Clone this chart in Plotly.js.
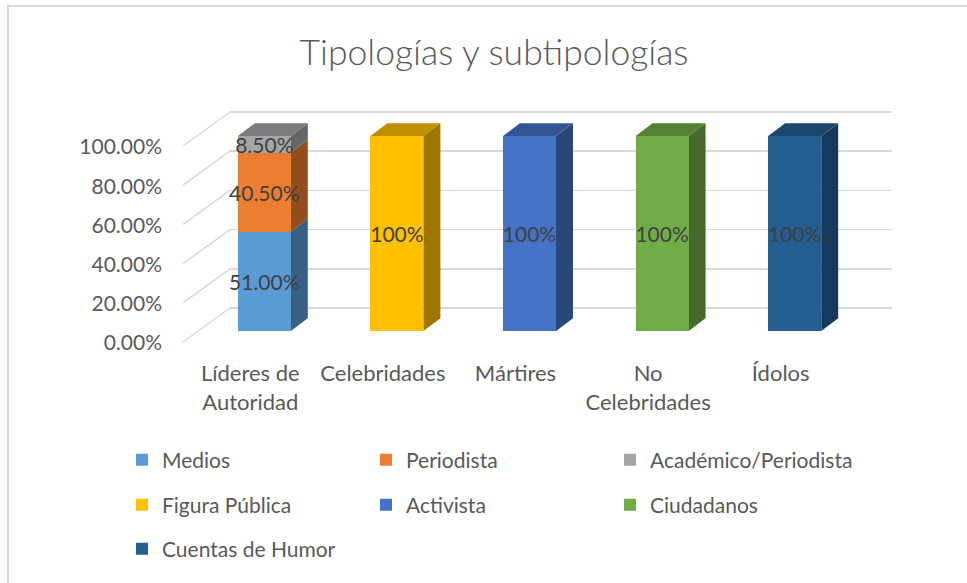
<!DOCTYPE html>
<html><head><meta charset="utf-8">
<script src="https://cdn.plot.ly/plotly-3.0.1.min.js"></script>
<style>
html,body{margin:0;padding:0;background:#fff;overflow:hidden;}
#wrap{position:relative;width:967px;height:583px;overflow:hidden;}
#chart{position:absolute;left:0;top:0;width:967px;height:583px;}
#frame{position:absolute;left:7px;top:5px;width:1000px;height:1000px;border:2px solid #d9d9d9;box-sizing:border-box;pointer-events:none;}
</style></head><body>
<div id="wrap"><div id="chart"></div><div id="frame"></div></div>
<script>
// ---- data ----
const categories = ['Líderes de<br>Autoridad', 'Celebridades', 'Mártires', 'No<br>Celebridades', 'Ídolos'];
const seriesNames = ['Medios', 'Periodista', 'Académico/Periodista', 'Figura Pública', 'Activista', 'Ciudadanos', 'Cuentas de Humor'];
const medios = [0.51, null, null, null, null];
const periodista = [0.405, null, null, null, null];
const academicoPeriodista = [0.085, null, null, null, null];
const figuraPublica = [null, 1, null, null, null];
const activista = [null, null, 1, null, null];
const ciudadanos = [null, null, null, 1, null];
const cuentasHumor = [null, null, null, null, 1];
const labelDecimals = [2, 2, 2, 0, 0, 0, 0];
const yTicks = [0, 0.2, 0.4, 0.6, 0.8, 1];

// ---- style ----
const seriesValues = [medios, periodista, academicoPeriodista, figuraPublica, activista, ciudadanos, cuentasHumor];
const colors = ['#5B9BD5', '#ED7D31', '#A5A5A5', '#FFC000', '#4472C4', '#70AD47', '#255E91'];
const legendOf = ['legend', 'legend', 'legend', 'legend2', 'legend2', 'legend2', 'legend3'];
const FONT = 'Lato, "Open Sans", sans-serif';
const TXT = '#595959';
const W = 967, H = 583;
const px = (v) => v / W, py = (v) => 1 - v / H;
const barWidth = 0.4, depthX = 0.128, depthY = 0.066;
// back wall grid geometry (pixels)
const wallLeft = 230, wallRight = 892, wallZero = 308, wallUnit = 196, gridPad = 0.02;
const gridDomain = [py(wallZero + gridPad * wallUnit), py(wallZero - (1 + gridPad) * wallUnit)];

function shade(hex, f) {
  const n = parseInt(hex.slice(1), 16);
  const r = Math.round(((n >> 16) & 255) * f), g = Math.round(((n >> 8) & 255) * f), b = Math.round((n & 255) * f);
  return 'rgb(' + r + ',' + g + ',' + b + ')';
}

const xs = categories.map((_, i) => i);
const traces = seriesValues.map((vals, s) => ({
  type: 'bar', name: seriesNames[s], x: xs, y: vals,
  xaxis: 'x2', yaxis: 'y2', width: barWidth,
  marker: {color: colors[s], line: {width: 0}},
  text: vals.map(v => v == null ? '' : (v * 100).toFixed(labelDecimals[s]) + '%'),
  textposition: 'inside', insidetextanchor: 'middle', textangle: 0, constraintext: 'none',
  textfont: {family: FONT, size: 21, color: '#404040'},
  legend: legendOf[s], hoverinfo: 'name+y'
}));

const shapes = [];
// back wall of the 3D box (white, on the grid axes)
shapes.push({type: 'rect', xref: 'x', yref: 'y', layer: 'below', x0: 0, x1: 1, y0: 0, y1: 1,
  fillcolor: 'rgba(255,255,255,0)', line: {width: 0}});
// 3D faces from the data (side + top of each stack)
const base = xs.map(() => 0);
seriesValues.forEach((vals, s) => {
  vals.forEach((v, i) => {
    if (v == null) return;
    const b = base[i], t = b + v, xr = i + barWidth / 2;
    shapes.push({type: 'path', xref: 'x2', yref: 'y2', layer: 'below', line: {width: 0},
      fillcolor: shade(colors[s], 0.62),
      path: `M${xr},${b} L${xr + depthX},${b + depthY} L${xr + depthX},${t + depthY} L${xr},${t} Z`});
    base[i] = t;
  });
});
seriesValues.forEach((vals, s) => {
  vals.forEach((v, i) => {
    if (v == null) return;
    let cum = 0; for (let k = 0; k <= s; k++) cum += seriesValues[k][i] || 0;
    if (Math.abs(cum - base[i]) > 1e-9) return;
    const t = base[i], xr = i + barWidth / 2, xl = i - barWidth / 2;
    shapes.push({type: 'path', xref: 'x2', yref: 'y2', layer: 'below', line: {width: 0},
      fillcolor: shade(colors[s], 0.75),
      path: `M${xl},${t} L${xr},${t} L${xr + depthX},${t + depthY} L${xl + depthX},${t + depthY} Z`});
  });
});
// floor diagonals of the wall grid (one per tick)
yTicks.forEach(t => {
  const back = py(wallZero - t * wallUnit);
  shapes.push({type: 'line', xref: 'paper', yref: 'paper', layer: 'below',
    x0: px(wallLeft - 47), y0: back - 34 / H, x1: px(wallLeft), y1: back,
    line: {color: '#d9d9d9', width: 1.5}});
});

const legendBase = {orientation: 'h', xref: 'container', yref: 'container', xanchor: 'left', yanchor: 'middle',
  font: {family: FONT, size: 21, color: TXT}, entrywidth: 199, entrywidthmode: 'pixels',
  bgcolor: 'rgba(0,0,0,0)', itemclick: false, itemdoubleclick: false, traceorder: 'normal'};

const layout = {
  width: W, height: H,
  margin: {l: 0, r: 0, t: 0, b: 0, autoexpand: false},
  paper_bgcolor: '#ffffff', plot_bgcolor: 'rgba(0,0,0,0)',
  font: {family: FONT, color: TXT},
  title: {text: 'Tipologías y subtipologías', font: {family: FONT, size: 35.5, color: TXT, weight: 300},
    x: px(494), xanchor: 'center', y: py(53), yanchor: 'middle', xref: 'container', yref: 'container', automargin: false},
  barmode: 'stack',
  // back wall grid
  xaxis: {domain: [px(wallLeft), px(wallRight)], range: [0, 1], visible: false, fixedrange: true, anchor: 'y'},
  yaxis: {domain: gridDomain, range: [-gridPad, 1 + gridPad], anchor: 'x', tickvals: yTicks, tickformat: '.2%',
    showgrid: true, gridcolor: '#d9d9d9', gridwidth: 1.5, zeroline: false, showline: false, ticks: '',
    tickfont: {family: FONT, size: 21, color: TXT}, ticklabelshift: 35, ticklabelstandoff: 67, fixedrange: true,
    automargin: false},
  // bars
  xaxis2: {domain: [px(198), px(861)], range: [-0.5, 4.5], anchor: 'y2', tickvals: xs, ticktext: categories,
    showgrid: false, zeroline: false, showline: false, ticks: '', ticklabelshift: -14, ticklabelstandoff: 27,
    tickfont: {family: FONT, size: 22, color: TXT}, fixedrange: true, automargin: false},
  yaxis2: {domain: [py(331), py(331 - 1.1 * 195)], range: [0, 1.1], anchor: 'x2', visible: false, fixedrange: true},
  shapes: shapes,
  showlegend: true,
  legend: Object.assign({}, legendBase, {x: px(122), y: py(460)}),
  legend2: Object.assign({}, legendBase, {x: px(122), y: py(505)}),
  legend3: Object.assign({}, legendBase, {x: px(122), y: py(549)})
};

Plotly.newPlot('chart', traces, layout, {displayModeBar: false, staticPlot: true});
</script>
</body></html>
